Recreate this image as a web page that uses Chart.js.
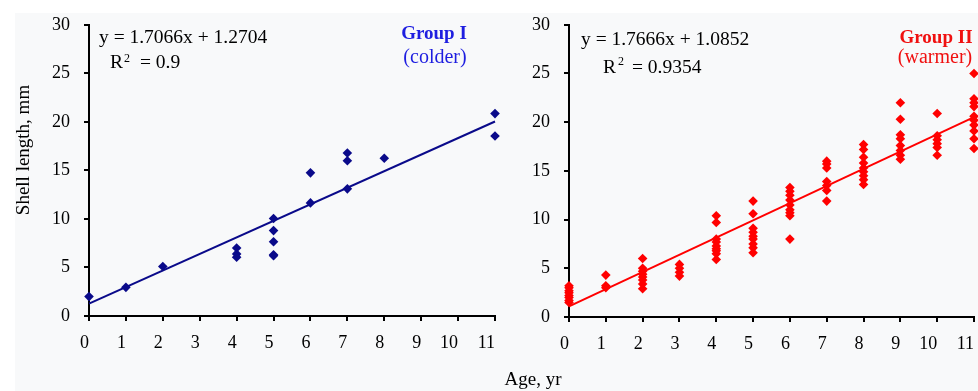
<!DOCTYPE html>
<html>
<head>
<meta charset="utf-8">
<script src="https://cdn.jsdelivr.net/npm/chart.js@4.4.1/dist/chart.umd.min.js"></script>
<style>
    body { margin: 0; background: #fff; width: 978px; height: 391px; overflow: hidden; position: relative; }
    #fondo { position: absolute; left: 15px; top: 13px; width: 963px; height: 378px; background: #f8f9fa; }
    #graficoI { position: absolute; left: 0; top: 0; }
    #graficoII { position: absolute; left: 470px; top: 0; }
</style>
</head>
<body>
<div id="fondo"></div>
<canvas id="graficoI" width="520" height="391"></canvas>
<canvas id="graficoII" width="520" height="391"></canvas>
<script>
// ---------------- DATOS ----------------
// Grupo I (colder)
const edadI = [0, 1, 2, 4, 4, 4, 5, 5, 5, 5, 5, 6, 6, 7, 7, 7, 8, 11, 11];
const largoI = [2.0, 2.95, 5.1, 7.0, 6.4, 6.05, 10.05, 8.8, 7.65, 6.3, 6.2, 14.75, 11.65, 16.8, 16.0, 13.1, 16.25, 20.85, 18.55];
const tendenciaEdadI = [0, 11];
const tendenciaLargoI = [1.27, 20.04];

// Grupo II (warmer)
const edadII = [
    0, 0, 0, 0, 0, 0, 0, 0,
    1, 1, 1,
    2, 2, 2, 2, 2, 2, 2, 2,
    3, 3, 3, 3,
    4, 4, 4, 4, 4, 4, 4, 4, 4,
    5, 5, 5, 5, 5, 5, 5, 5, 5,
    6, 6, 6, 6, 6, 6, 6, 6, 6,
    7, 7, 7, 7, 7, 7, 7,
    8, 8, 8, 8, 8, 8, 8, 8, 8,
    9, 9, 9, 9, 9, 9, 9, 9,
    10, 10, 10, 10, 10, 10,
    11, 11, 11, 11, 11, 11, 11, 11, 11, 11,
];
const largoII = [
    3.2, 3.0, 2.7, 2.5, 2.2, 2.0, 1.7, 1.5,
    4.3, 3.2, 3.0,
    6.0, 5.0, 4.7, 4.4, 4.1, 3.8, 3.4, 2.9,
    5.4, 5.0, 4.6, 4.2,
    10.4, 9.7, 8.0, 7.7, 7.3, 7.0, 6.8, 6.5, 5.9,
    11.9, 10.6, 9.1, 8.7, 8.3, 8.0, 7.5, 7.1, 6.6,
    13.3, 12.9, 12.5, 12.0, 11.5, 11.0, 10.7, 10.4, 8.0,
    16.0, 15.7, 15.3, 13.9, 13.5, 13.0, 11.9,
    17.7, 17.2, 16.4, 15.8, 15.3, 14.9, 14.5, 14.1, 13.6,
    22.0, 20.3, 18.7, 18.3, 17.6, 17.1, 16.6, 16.2,
    20.9, 18.6, 18.2, 17.8, 17.4, 16.6,
    25.0, 22.4, 22.0, 21.6, 20.6, 20.2, 19.7, 19.1, 18.3, 17.3,
];
const tendenciaEdadII = [0, 11];
const tendenciaLargoII = [1.09, 20.52];

const ticksEdad = [0, 1, 2, 3, 4, 5, 6, 7, 8, 9, 10, 11];
const ticksLargo = [0, 5, 10, 15, 20, 25, 30];

const FUENTE = "'Liberation Serif', 'Times New Roman', serif";

function aPuntos(xs, ys) {
    return xs.map((x, i) => ({ x, y: ys[i] }));
}

function crearEscalas(anchoY, altoX) {
    return {
        x: {
            type: "linear",
            min: ticksEdad[0],
            max: ticksEdad[ticksEdad.length - 1],
            afterBuildTicks: (s) => { s.ticks = ticksEdad.map((v) => ({ value: v })); },
            ticks: { align: "end", padding: 11, color: "#000", font: { family: FUENTE, size: 18 } },
            grid: { drawOnChartArea: false, tickLength: 5, color: "#000", lineWidth: 2 },
            border: { color: "#000", width: 2 },
            afterFit: (s) => { s.height = altoX; },
        },
        y: {
            type: "linear",
            min: ticksLargo[0],
            max: ticksLargo[ticksLargo.length - 1],
            afterBuildTicks: (s) => { s.ticks = ticksLargo.map((v) => ({ value: v })); },
            ticks: { padding: 14, color: "#000", font: { family: FUENTE, size: 18 } },
            grid: { drawOnChartArea: false, tickLength: 5, color: "#000", lineWidth: 2 },
            border: { color: "#000", width: 2 },
            afterFit: (s) => { s.width = anchoY; },
        },
    };
}

// textos sobre el grafico (ecuacion, R2, grupo, titulos)
function pluginTextos(t) {
    return {
        id: "textos",
        afterDraw(chart) {
            const ctx = chart.ctx;
            ctx.save();
            ctx.fillStyle = "#000";
            ctx.textAlign = "left";
            ctx.textBaseline = "alphabetic";
            ctx.font = "19.5px " + FUENTE;
            ctx.fillText(t.ecuacion, t.ecX, t.ecY);
            ctx.fillText("R", t.rX, t.rY);
            ctx.fillText(t.r2, t.r2X, t.rY);
            ctx.font = "12px " + FUENTE;
            ctx.fillText("2", t.supX, t.supY);

            ctx.textAlign = "center";
            ctx.fillStyle = t.color;
            ctx.font = "bold 19px " + FUENTE;
            ctx.fillText(t.grupo, t.gX, t.gY);
            ctx.font = "20px " + FUENTE;
            ctx.fillText(t.clima, t.cX, t.cY);

            ctx.fillStyle = "#000";
            ctx.font = "19px " + FUENTE;
            if (t.tituloY) {
                ctx.translate(t.tyX, t.tyY);
                ctx.rotate(-Math.PI / 2);
                ctx.textBaseline = "middle";
                ctx.fillText(t.tituloY, 0, 0);
                ctx.setTransform(1, 0, 0, 1, 0, 0);
                ctx.textBaseline = "alphabetic";
            }
            if (t.tituloX) {
                ctx.fillText(t.tituloX, t.txX, t.txY);
            }
            ctx.restore();
        },
    };
}

function crearGrafico(id, xs, ys, txs, tys, color, layoutPad, anchoY, altoX, textos) {
    return new Chart(document.getElementById(id), {
        type: "scatter",
        data: {
            datasets: [
                {
                    data: aPuntos(xs, ys),
                    pointStyle: "rectRot",
                    pointRadius: 4.8,
                    backgroundColor: color,
                    borderWidth: 0,
                    clip: false,
                },
                {
                    data: aPuntos(txs, tys),
                    showLine: true,
                    pointRadius: 0,
                    borderColor: color,
                    borderWidth: 2,
                    clip: false,
                },
            ],
        },
        options: {
            responsive: false,
            animation: false,
            events: [],
            layout: { padding: layoutPad },
            plugins: { legend: { display: false }, tooltip: { enabled: false } },
            scales: crearEscalas(anchoY, altoX),
        },
        plugins: [pluginTextos(textos)],
    });
}

// ---------------- INICIO ----------------
crearGrafico("graficoI", edadI, largoI, tendenciaEdadI, tendenciaLargoI, "#0a0a8a",
    { top: 20, right: 25, left: 0, bottom: 0 }, 89, 75, {
        ecuacion: "y = 1.7066x + 1.2704", ecX: 99, ecY: 43,
        r2: "= 0.9", rX: 110, rY: 68, r2X: 140, supX: 124, supY: 62,
        grupo: "Group I", clima: "(colder)", color: "#1e1ee0", gX: 434, gY: 39, cX: 435, cY: 63,
        tituloY: "Shell length, mm", tyX: 24, tyY: 150,
    });

// el lienzo derecho pasa del borde de la ventana, asi los rombos de x=11 quedan cortados
crearGrafico("graficoII", edadII, largoII, tendenciaEdadII, tendenciaLargoII, "#ff0000",
    { top: 22, right: 16, left: 0, bottom: 0 }, 99, 74, {
        ecuacion: "y = 1.7666x + 1.0852", ecX: 111, ecY: 45,
        r2: "= 0.9354", rX: 133, rY: 73, r2X: 162, supX: 148, supY: 65,
        grupo: "Group II", clima: "(warmer)", color: "#f01010", gX: 466, gY: 43, cX: 465, cY: 63,
        tituloX: "Age, yr", txX: 63, txY: 385,
    });
</script>
</body>
</html>
